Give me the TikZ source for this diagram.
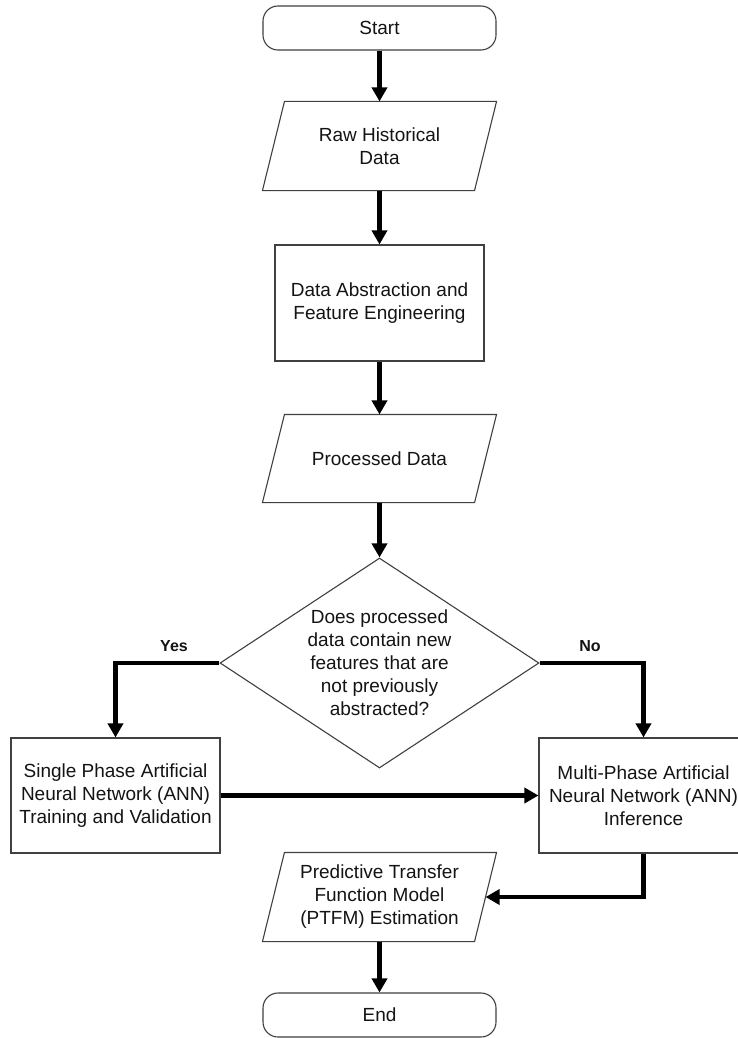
\documentclass[tikz,border=0pt]{standalone}
\usepackage{fontspec}
\setmainfont{Liberation Sans}
\usetikzlibrary{arrows.meta,shapes.geometric,calc}
\definecolor{edgegray}{HTML}{404040}
\definecolor{txt}{HTML}{141414}
\tikzset{
  base/.style={draw=edgegray, line width=1.1pt, text=txt, align=center, inner sep=0pt,
    font=\fontsize{19pt}{23pt}\selectfont},
  terminal/.style={base, rounded corners=15pt, minimum width=233pt, minimum height=44pt},
  procbox/.style={base, rectangle, minimum width=209pt, minimum height=115pt},
  iobox/.style={base, draw=none, rectangle, minimum width=211pt, minimum height=88pt},
  decision/.style={base, diamond, minimum width=319pt, minimum height=210pt},
  plaintext/.style={text=txt, align=center, inner sep=0pt, font=\fontsize{19pt}{23pt}\selectfont},
  answer/.style={text=txt, inner sep=0pt, font=\fontsize{16pt}{19pt}\selectfont\bfseries},
  flow/.style={draw=black, line width=4.5pt, -{Triangle[width=15pt,length=14pt]}},
  ioline/.style={draw=edgegray, line width=1.1pt, line join=miter}
}
\newcommand{\ioshape}[1]{%
  \draw[ioline] ([xshift=-11pt]#1.south west) -- ([xshift=11pt]#1.north west)
    -- ([xshift=11pt]#1.north east) -- ([xshift=-11pt]#1.south east) -- cycle;}
\begin{document}
\begin{tikzpicture}[x=1pt,y=-1pt]
\useasboundingbox (0,0) rectangle (738,1038);
\fill[white] (0,0) rectangle (738,1038);

\node[terminal] (start) at (379.5,28) {Start};
\node[iobox] (raw) at (379.5,146) {Raw Historical\\Data};
\ioshape{raw}
\node[procbox, minimum height=116pt] (abs) at (379.5,303) {Data Abstraction and\\Feature Engineering};
\node[iobox, minimum height=87pt] (proc) at (379.5,458.5) {Processed Data};
\ioshape{proc}
\node[decision] (dec) at (379.5,663) {};
\node[plaintext] (dectext) at (379.5,663) {Does processed\\data contain new\\features that are\\not previously\\abstracted?};
\node[procbox] (single) at (115.5,795.5) {Single Phase Artificial\\Neural Network (ANN)\\Training and Validation};
\node[procbox] (multi) at (643.5,795.5) {Multi-Phase Artificial\\Neural Network (ANN)\\Inference};
\node[iobox] (ptfm) at (379.5,897) {Predictive Transfer\\Function Model\\(PTFM) Estimation};
\ioshape{ptfm}
\node[terminal] (end) at (379.5,1015) {End};

\node[answer] (yes) at (174,646) {Yes};
\node[answer] (no) at (590,646) {No};

\draw[flow] (start.south) -- (raw.north);
\draw[flow] (raw.south) -- (abs.north);
\draw[flow] (abs.south) -- (proc.north);
\draw[flow] (proc.south) -- (dec.north);
\draw[flow] (dec.west) -| (single.north);
\draw[flow] (dec.east) -| (multi.north);
\draw[flow] (single.east) -- (multi.west);
\draw[flow] (multi.south) |- (ptfm.east);
\draw[flow] (ptfm.south) -- (end.north);
\end{tikzpicture}
\end{document}
